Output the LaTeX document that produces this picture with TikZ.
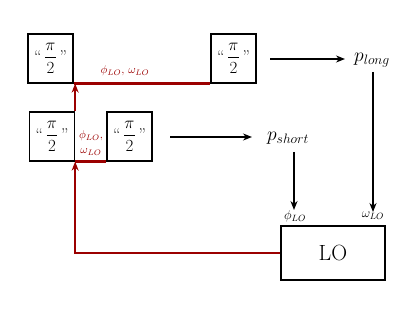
\RequirePackage{fix-cm}
\documentclass[tikz,border=0pt]{standalone}
\usepackage{amsmath}
\usetikzlibrary{arrows.meta}
\definecolor{dred}{RGB}{155,0,0}
\tikzset{
  halfbox/.style={draw=black, line width=1.3pt, minimum width=45pt, minimum height=49pt, inner sep=0pt, font=\fontsize{17}{20}\selectfont},
  lobox/.style={draw=black, line width=1.3pt, minimum width=104pt, minimum height=54pt, inner sep=0pt, font=\fontsize{22}{26}\selectfont},
  lbl/.style={inner sep=0pt, font=\fontsize{19.5}{22}\selectfont},
  smlbl/.style={inner sep=0pt, font=\fontsize{13}{15}\selectfont},
  redlbl/.style={inner sep=0pt, text=dred, font=\fontsize{11.4}{13}\selectfont},
  blk/.style={line width=1.5pt, -{Stealth[length=9pt,width=7pt]}},
  redline/.style={draw=dred, line width=2.5pt},
  redarr/.style={draw=dred, line width=1.6pt, -{Stealth[length=9pt,width=7pt]}},
}
\newcommand{\halfpi}{``\,$\dfrac{\pi}{2}$\,''}
\begin{document}
\begin{tikzpicture}[x=1pt,y=-1pt]
\useasboundingbox (0,0) rectangle (417,315);
\node[halfbox] (A) at (50.5,58.5) {\halfpi};
\node[halfbox] (B) at (233.5,58.5) {\halfpi};
\node[halfbox] (C) at (52,136.5) {\halfpi};
\node[halfbox] (D) at (129.5,136.5) {\halfpi};
\node[lbl] (pl) at (372,60) {$p_{long}$};
\node[lbl] (ps) at (288,138) {$p_{short}$};
\node[lobox] (LO) at (333,253) {LO};
\node[smlbl] (phi) at (295,216) {$\phi_{LO}$};
\node[smlbl] (om) at (373,216) {$\omega_{LO}$};
\coordinate (pa1) at (270,59);
\coordinate (pa2) at (345,59);
\coordinate (sa1) at (170,137);
\coordinate (sa2) at (252,137);
\coordinate (ps1) at (294,152);
\coordinate (pl1) at (373,72);
\draw[blk] (pa1) -- (pa2);
\draw[blk] (sa1) -- (sa2);
\draw[blk] (ps1) -- (ps1 |- phi.north);
\draw[blk] (pl1) -- (pl1 |- om.north);
\draw[redline] (A.south east) -- (B.south west);
\draw[redline] (C.south east) -- (D.south west);
\node[redlbl] (tl) at (125,71) {$\phi_{LO},\,\omega_{LO}$};
\node[redlbl] (cl1) at (91,136) {$\phi_{LO},$};
\node[redlbl] (cl2) at (91,152) {$\omega_{LO}$};
\draw[redarr] (C.north east) -- (C.north east |- A.south);
\coordinate (corner) at (C.south east |- LO.west);
\draw[redarr] (LO.west) -- (corner) -- (C.south east);
\end{tikzpicture}
\end{document}
